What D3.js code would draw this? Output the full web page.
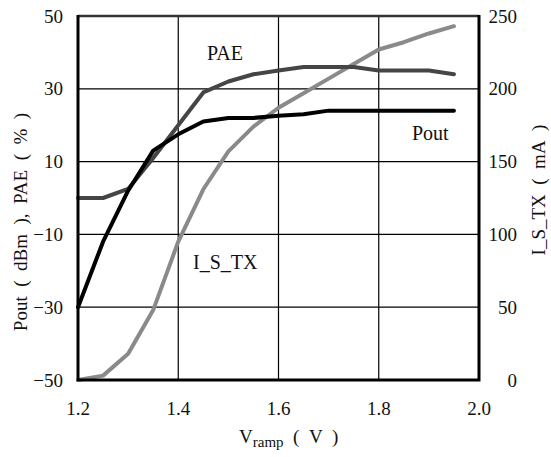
<!DOCTYPE html>
<html>
<head>
<meta charset="utf-8">
<script src="https://cdn.jsdelivr.net/npm/d3@7"></script>
<style>
  body { margin: 0; background: #fff; }
  text { font-family: "Liberation Serif", "Times New Roman", serif; fill: #111; }
</style>
</head>
<body>
<div id="chart"></div>
<script>
// data
var vramp = [1.2, 1.25, 1.3, 1.35, 1.4, 1.45, 1.5, 1.55, 1.6, 1.65, 1.7, 1.75, 1.8, 1.85, 1.9, 1.95];
var pout  = [-30, -12, 2, 13, 17.5, 21, 22, 22, 22.6, 23, 24, 24, 24, 24, 24, 24];
var pae   = [0, 0, 2.5, 11, 20, 29, 32, 34, 35, 36, 36, 36, 35, 35, 35, 34];
var istx  = [0, 3, 18, 48, 95, 131, 157, 174, 187, 197, 207, 217, 227, 232, 238, 243];

var xTicks = [1.2, 1.4, 1.6, 1.8, 2.0];
var yLeftTicks = [-50, -30, -10, 10, 30, 50];
var yRightTicks = [0, 50, 100, 150, 200, 250];

// svg attributes
let svgWidth = 551;
let svgHeight = 457;
let plotL = 78, plotR = 479, plotT = 16, plotB = 380;

var xscale = d3.scaleLinear().domain([1.2, 2.0]).range([plotL, plotR]);
var yscale = d3.scaleLinear().domain([-50, 50]).range([plotB, plotT]);
var y2scale = d3.scaleLinear().domain([0, 250]).range([plotB, plotT]);

let svg = d3.select("#chart")
  .append("svg")
  .attr("width", svgWidth)
  .attr("height", svgHeight);

// grid
svg.append("g")
  .selectAll("line")
  .data(xTicks.slice(1, -1))
  .enter()
  .append("line")
  .attr("x1", d => xscale(d)).attr("x2", d => xscale(d))
  .attr("y1", plotT).attr("y2", plotB)
  .attr("stroke", "#000").attr("stroke-width", 1.2);

svg.append("g")
  .selectAll("line")
  .data(yLeftTicks.slice(1, -1))
  .enter()
  .append("line")
  .attr("x1", plotL).attr("x2", plotR)
  .attr("y1", d => yscale(d)).attr("y2", d => yscale(d))
  .attr("stroke", "#000").attr("stroke-width", 1.2);

// curves
function drawLine(values, scale, color) {
  let line = d3.line()
    .x((d, i) => xscale(vramp[i]))
    .y(d => scale(d));
  svg.append("path")
    .datum(values)
    .attr("d", line)
    .attr("fill", "none")
    .attr("stroke", color)
    .attr("stroke-width", 4)
    .attr("stroke-linejoin", "round")
    .attr("stroke-linecap", "round");
}
drawLine(istx, y2scale, "#8a8a8a");
drawLine(pae, yscale, "#454545");
drawLine(pout, yscale, "#000");

// frame
svg.append("line").attr("x1", plotL).attr("x2", plotR).attr("y1", plotT).attr("y2", plotT)
  .attr("stroke", "#333").attr("stroke-width", 2.5);
svg.append("path")
  .attr("d", "M" + plotL + "," + (plotT - 1) + "V" + plotB + "H" + plotR + "V" + (plotT - 1))
  .attr("fill", "none").attr("stroke", "#000").attr("stroke-width", 3);

// tick labels
let fmt = d => String(d).replace("-", "\u2212");

svg.append("g")
  .selectAll("text")
  .data(xTicks)
  .enter()
  .append("text")
  .attr("x", d => xscale(d))
  .attr("y", 415)
  .attr("text-anchor", "middle")
  .style("font-size", "19px")
  .text(d => d.toFixed(1));

svg.append("g")
  .selectAll("text")
  .data(yLeftTicks)
  .enter()
  .append("text")
  .attr("x", 63)
  .attr("y", d => yscale(d) + 6.5)
  .attr("text-anchor", "end")
  .style("font-size", "19px")
  .text(fmt);

svg.append("g")
  .selectAll("text")
  .data(yRightTicks)
  .enter()
  .append("text")
  .attr("x", 517)
  .attr("y", d => y2scale(d) + 6.5)
  .attr("text-anchor", "end")
  .style("font-size", "19px")
  .text(d => d);

// series labels
svg.append("text").attr("x", 207).attr("y", 60).style("font-size", "20px").text("PAE");
svg.append("text").attr("x", 412).attr("y", 140).style("font-size", "20px").text("Pout");
svg.append("text").attr("x", 193).attr("y", 269).style("font-size", "20px").text("I_S_TX");

// axis titles
let xt = svg.append("text").attr("x", 239).attr("y", 443).style("font-size", "19px");
xt.append("tspan").text("V");
xt.append("tspan").attr("dy", 4).style("font-size", "15px").text("ramp");
xt.append("tspan").attr("dy", -4).text("\u2002(\u2002V\u2002)");

svg.append("text")
  .attr("transform", "translate(27,222) rotate(-90)")
  .attr("text-anchor", "middle")
  .style("font-size", "19px")
  .text("Pout\u2002(\u2002dBm\u2002),\u2002PAE\u2002(\u2002%\u2002)");

svg.append("text")
  .attr("transform", "translate(545,190) rotate(-90)")
  .attr("text-anchor", "middle")
  .style("font-size", "19px")
  .text("I_S_TX\u2002(\u2002mA\u2002)");
</script>
</body>
</html>
